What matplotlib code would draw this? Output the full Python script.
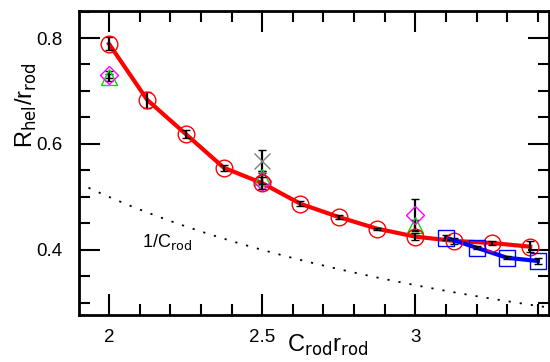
import matplotlib
matplotlib.use("Agg")
import matplotlib.pyplot as plt
import numpy as np
from matplotlib.ticker import MultipleLocator

plt.rcParams['font.family'] = ['Liberation Sans', 'DejaVu Sans']

# red series (circles)
red_x = [2.0, 2.125, 2.25, 2.375, 2.5, 2.625, 2.75, 2.875, 3.0, 3.125, 3.25, 3.375]
red_y = [0.789, 0.683, 0.619, 0.555, 0.526, 0.487, 0.462, 0.440, 0.425, 0.417, 0.413, 0.406]
red_err = [0.012, 0.015, 0.008, 0.006, 0.012, 0.005, 0.004, 0.002, 0.006, 0.005, 0.003, 0.010]

# blue series (squares)
blue_x = [3.1, 3.2, 3.3, 3.4]
blue_y = [0.423, 0.404, 0.385, 0.379]
blue_err = [0.005, 0.003, 0.003, 0.005]

# green triangles
green_x = [2.0, 2.5, 3.0]
green_y = [0.726, 0.537, 0.447]
green_err = [0.007, 0.012, 0.010]

# magenta diamonds
mag_x = [2.0, 2.5, 3.0]
mag_y = [0.731, 0.530, 0.466]
mag_err = [0.006, 0.015, 0.030]

# gray crosses
gray_x = [2.5]
gray_y = [0.568]
gray_err = [0.020]

fig = plt.figure(figsize=(5.5, 3.62), dpi=100)
ax = fig.add_axes([0.1436, 0.1298, 0.8544, 0.8398])

# 1/C curve
cx = np.linspace(1.9, 3.44, 200)
ax.plot(cx, 1.0 / cx, color='black', ls=(0, (1.2, 5)), lw=1.3)
ax.text(2.107, 0.415, r'1/C$_{\rm rod}$', fontsize=13, va='center')

eb = dict(ecolor='black', elinewidth=1.6, capsize=3, capthick=1.6, ls='none')

ax.errorbar(gray_x, gray_y, yerr=gray_err, marker='x', ms=11, mec='gray',
            mew=1.0, **eb, zorder=3)
ax.errorbar(green_x, green_y, yerr=green_err, marker='^', ms=11, mfc='none',
            mec='#00dd00', mew=1.0, **eb, zorder=3)
ax.errorbar(mag_x, mag_y, yerr=mag_err, marker='D', ms=9, mfc='none',
            mec='magenta', mew=1.0, **eb, zorder=3)

ax.plot(red_x, red_y, color='red', lw=3, zorder=2)
ax.errorbar(red_x, red_y, yerr=red_err, marker='o', ms=12, mfc='none',
            mec='red', mew=1.0, **eb, zorder=4)

ax.plot(blue_x, blue_y, color='blue', lw=3, zorder=2)
ax.errorbar(blue_x, blue_y, yerr=blue_err, marker='s', ms=11, mfc='none',
            mec='blue', mew=1.0, **eb, zorder=4)

ax.set_xlim(1.902, 3.436)
ax.set_ylim(0.277, 0.851)
ax.xaxis.set_minor_locator(MultipleLocator(0.1))
ax.yaxis.set_minor_locator(MultipleLocator(0.05))
ax.set_xticks([2, 2.5, 3])
ax.set_xticklabels(['2', '2.5', '3'])
ax.set_yticks([0.4, 0.6, 0.8])
ax.set_yticklabels(['0.4', '0.6', '0.8'])

ax.tick_params(which='both', direction='in', top=True, right=True,
               width=1.5, labelsize=13.5)
ax.tick_params(axis='x', which='both', pad=10)
ax.tick_params(axis='y', which='both', pad=12)
ax.tick_params(which='major', length=15)
ax.tick_params(which='minor', length=8)
for s in ax.spines.values():
    s.set_linewidth(2)

ax.set_xlabel(r'C$_{\rm rod}$r$_{\rm rod}$', fontsize=17)
ax.xaxis.set_label_coords(0.53, -0.058)
ax.set_ylabel(r'R$_{\rm hel}$/r$_{\rm rod}$', fontsize=17, va='center')
ax.yaxis.set_label_coords(-0.112, 0.69)

fig.savefig('out.png', dpi=100)
